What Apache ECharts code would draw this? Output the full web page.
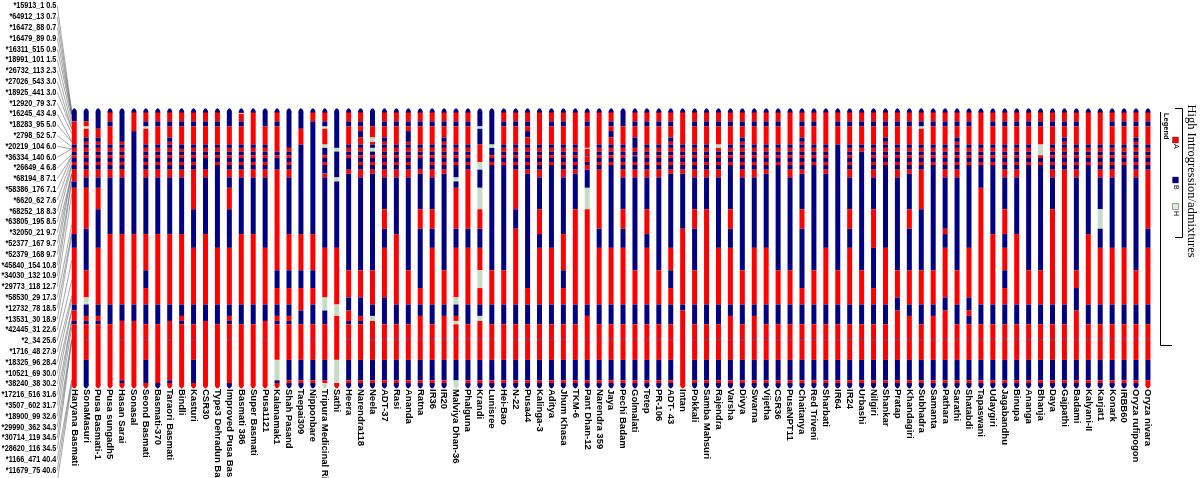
<!DOCTYPE html>
<html><head><meta charset="utf-8">
<script src="https://cdn.jsdelivr.net/npm/echarts@6/dist/echarts.min.js"></script>
<style>html,body{margin:0;padding:0;background:#fff}#c{width:1200px;height:478px}</style>
</head><body><div id="c"></div>
<script>
// ---------- data ----------
const accessions = ['Haryana Basmati','SonaMasuri','Pusa Basmati-1','Pusa sungadh5','Hasan Sarai','Sonasal','Seond Basmati','Basmati-370','Taraori Basmati','Bindli','Kasturi','CSR30','Type3 Dehradun Basmati','Improved Pusa Basmati','Basmati 386','Super Basmati','Pusa1121','Kalanamak1','Shah Pasand','Taepai309','Nipponbare','Tripura Medicinal Rice','Sathi','Heera','Narendra118','Neela','ADT-37','Rasi','Ananda','Ratna','IR36','IR20','Malviya Dhan-36','Phalguna','Krandi','Lunisree','Hei-Bao','N-22','Pusa44','Kalinga-3','Aditya','Jhum Khasa','TKM-6','Pant Dhan-12','Narendra 359','Jaya','Pechi Badam','Golmalati','Tetep','PR-106','ADT- 43','Intan','Pokkali','Samba Mahsuri','Rajendra','Varsha','Divya','Swarna','Vijetha','CSR36','PusaNPT11','Chaitanya','Red Triveni','Sharbati','IR64','IR24','Urbashi','Nilgiri','Shankar','Pratap','Khandagiri','Subhadra','Samanta','Pathara','Sarathi','Shatabdi','Tapaswani','Udaygiri','Jagabandhu','Binupa','Ananga','Bhanja','Daya','Gajpathi','Badami','Kalyani-II','Karjat1','Konark','IRBB60','Oryza rufipogon','Oryza nivara'];

const markerNames = ['*15913_1','*64912_13','*16472_88','*16479_89','*16311_515','*18991_101','*26732_113','*27026_543','*18925_441','*12920_79','*16245_43','*18283_95','*2798_52','*20219_104','*36334_140','*26649_4','*68194_8','*58386_176','*6620_62','*68252_18','*63805_195','*32050_21','*52377_167','*52379_168','*45840_154','*34030_132','*29773_118','*58530_29','*12732_78','*13531_30','*42445_31','*2_34','*1716_48','*18325_96','*10521_69','*38240_38','*17216_516','*3507_602','*18900_99','*29990_362','*30714_119','*28620_116','*1166_471','*11679_75','*16082_386'];
const markerCM = [0.5,0.7,0.7,0.9,0.9,1.5,2.3,3.0,3.0,3.7,4.9,5.0,5.7,6.0,6.0,6.8,7.1,7.1,7.6,8.3,8.5,9.7,9.7,9.7,10.8,10.9,12.7,17.3,18.5,18.9,22.6,25.6,27.9,28.4,30.0,30.2,31.6,31.7,32.6,34.3,34.5,34.5,40.4,40.6,41.2];

const genotypeClasses = ['A','B','H'];
const legendTitle = 'Legend';
const chartTitle = 'High Introgression/admixtures';

// genotype calls per accession, markers 1-26 (0.5-10.9 cM)
const callsTop = [
'BBBBBBAAAAAABAABAABABAAAAB','BBBBBBAHAABABAABAABABAAABB','BBBBBBBBAABABAABAABABAAABB','AAAAAABAAAAABAABAABABAAABB',
'BBBBBBBBBBBABAABAABABAAABB','AAAAAAAAABBBBBBBBBBBBBBBBB','AAAAAABHAAAABAABAABABAAABB','AAAAAABAAAAABAABAABABAAABB',
'AAAAAABAAABABAABAABABAAABB','AAAAAABAAAAABBABAABABAAABB','AAAAAABAAAAABAABAABABAAAAA','AAAAAABAAAAABAABAABBBAAABB',
'AAAAAABAAAAABAABAABABBBBBB','BBBBBBBAAAAABAABAABABAAABB','AAHAAABAAAAABAABAABABAAABB','AAAAAAAAAAAABAABAABABAAABB',
'BBBBBBBAAAAABAABAABABAAABB','AAAAAABAAAAAAAABAABBBAAAAA','BBBBBBBBBBBBBAABAABABAAABB','BBBBBBBBAAAABBBBBBBBBBBBBB',
'AAAAAABBBBBBBBBBBBBBBBBBBB','AAAAAABHAAAAHBBBAABABBHABB','BBBBBBBBBBBBBHHBBBBBBBBBHB','AAAAAABAAAAABAABAABBBAABBB',
'AAAAAABAABAABAABAABABAAABB','BBBBBBBAAAHABHHBAABABAABBB','AAAAAABAAABABAABAABABAAABB','AAAAAABAAAAABAABAABABAAABB',
'AAAAAABAABBABAABAABABAAABB','AAAAAABAAAAABAABAABBBAABBB','AAAAAABAAAAABAABAABABAAABB','AAAAAABAAABABAABAABABAABBB',
'AAAAAABAAAAABAABAABABBBBHB','AAAAAABAAAAABAABAABABAAAAA','BBBBBBBHBBBBAAAAAAAHHBBBBB','BBBBBBBBBBBBHBBBAABABBBBBB',
'AAAAAABAAAAABAABAABABBBBBB','AAAAAABAAAAABAABAABABAAAAA','AAAAAABAABAABAABAABABAABBB','AAAAAAAAAAAABAABAABABAAABB',
'AAAAAABAAAAABAABAABABBBBBB','AAAAAABAAAAABAABAABABAAABB','AAAAAAAAAAAABAABAABABAABBB','AAAAAABAAAAAAHAABAABABBBBB',
'AAAAAAAAAAAABAABAABABAAAAA','AAAAAABAABAABAABAABABBBBBB','BBBBBBBAAAAABAABAABABAAABB','AAAAAABAAABBBAABABBABAAABB',
'AAAAAABAAAAABAABAABABAAABB','AAAAAABAAAAABAABAABABAAABB','AAAAAABAAABABAABAABABAABBB','AAAAAAAAAAAABAABAABABAABBB',
'AAAAAABAAAAABAABAABABAAABB','AAAAAABAAAAABAABAABABAAABB','AAAAAABAAAAAHAABAABABAAABB','AAAAAABAAAAABAABAABABBBBBB',
'AAAAAABAAABABAABAABABAAABB','AAAAAABAAAAABAABAABABAAABB','AAAAAABAAAAABAABAABABAABBB','AAAAAABAAAAABAABAABABBBBBB',
'AAAAAAAAAAAABAABAABABAAABB','AAAAAABAAABABAABAABABAABBB','AAAAAABAAAAABAABAABABBBBBB','AAAAAAAAAAAABAABAABABAABBB',
'AAAAAABAAAAABBBBBBBBBBBBBB','AAAAAABAAAAABAABAABABAAABB','AAAAAABAAAAABAABBBBBBBBBBB','AAAAAABAAAAABAABAABABAAABB',
'AAAAAABAAABABAABAABABBBBBB','AAAAAABAAAAABAABAABABAAABB','AAAAAABAAAAABAABAABABAABBB','AAAAAABHAAAABAABAABABAAAAA',
'AAAAAABAAAAABAABAABABBBBBB','AAAAAABAAAAABAABAABABAAABB','AAAAAABAAABABAABAABABAAABB','AAAAAABAAAAABAABAABABBBBBB',
'AAAAAAAAAAAABAABAABABBBBBB','AAAAAABAAAAABAABAABABBBBBB','AAAAAABAAAAABAABAABABAAABB','AAAAAABAAAAABAABAABABAAABB',
'AAAAAABAAAAABAABAABABBBBBB','AAAAAABAAAAAHHHHAABABBBBBB','AAAAAABAAAAABAABAABABAAABB','AAAAAABAAABABAABAABABAAAAA',
'AAAAAABAAAAABAABAABABAAABB','AAAAAAAAAAAABAABAABABBBBBB','AAAAAAAAAAAABAABAABABAAABB','AAAAAABAAAAABAABAABABAAABB',
'AAAAAABAAAAABAABAABABBBBBB','AAAAAABAAABABAABAABABAAABB','AAAAAABAAAAABAABAABABAAAAA'];

// genotype calls per accession, markers 27-45 (12.7-41.2 cM)
const callsBottom = [
'AAABAAAABAABAAAAAAA','AABBBAAHBBABAABABBB','ABBBAAAABBABAAAAAAA','BBBAAAAABBBBAAAAAAA',
'BBBAAAAABBBAAABAABA','BBBAAAAABBBAAAAAAAA','BBBAABAABBBBAABABBA','BBBAAAAABBBBAAAAAAB',
'BBBAAAAABBBAAABAABA','BBBAAAAABBABAAAAAAA','ABBBAAAABBBBAABABBA','BBBAAAAABBBAAAAAAAA',
'BBBBAAAABBBBAAAAAAA','ABBBAAAABBABAABAAAB','BBBAAAAABBBBAAAAAAA','BBBAAAAABBBBAAAAAAA',
'BBBBAAAABBBAAABAAAA','AAAAABAABBABAAAAHBA','BBBAABAABBABAAAABAB','BBBAABAAABBBAAAABAB',
'BBBAABAABBBBAABABAB','BBBBAAAHHBBBAAAABAH','BBBBAAAAHHAAAAAAHHA','BBBBBAABBAABAABABAB',
'BBBBBAABBBABAAAABAB','BBBBBAAABBHAAABABAB','BABBAAABBBBBAABABAB','BBBAAAAABBBBAABABAB',
'BBBBBAAABBBBAABABAB','BABBBBAABBAAAABABAB','BABBAAAABBBBAABABAB','BBBBBAAABBAAAABABAB',
'AABBAAAHBBAHAABABHH','AABBAAAABBBBAABABAB','HABBAHAABBHAAABABAB','BBBBBAAABBBBAABABAB',
'BBBBBAAABBBBAAAABAB','ABAAAAAABBBBAABABAB','BBBBBBAABBBBAABABAB','BAABAAAABBBBAABABAB',
'BBBBAAAABBBBAABABAB','BBBAABAABBBBAABABAB','BAAAAAAABBBBAAAABAB','HAAAAAAABBAAAABABAB',
'AABBAAAABBBBAABABAB','BBBBAAAABBBBAABABAB','BABBAAAABBBBAABABAB','BBBBBAAABBBBAABABAB',
'BAABAAAABBBBAABABAB','BBBBBAAABBBBAABABAB','BBBBABAABBBBAABABAB','BBAAAAAABAAAAAAAAAA',
'BABBBAAABBBBAABABAB','BAAAAAAABBBBAABABAB','BBBBAAAABBBBAABABAB','BABBAAAABBAAAABABAB',
'BBBBBAAABBBBAABABAB','BBBBAAAABBAAAABABAB','BBBBAAAABBBBAABABAB','BBBBBAAABBBBAABABAB',
'BBBBBAAABBBBAABABAB','BABBBBAABBBBAABABAB','BBBBBAAABBBBAABABAB','BBBBAAAABBBBAABABAB',
'BBBBBAAABBBBAABABAB','BABBAAAABBBBAABABAB','BBBBBAAABBBBAABABAB','BAAABBAABBBBAABABAB',
'BBBBAAAABBBBAABABAB','BBBBBAABBAAAAABABAB','BABBBAAABBAAAABABAB','ABBBBAAABBBBAABABAB',
'BBBBBAAABBAAAABABAB','BBABAAABBAAAAABABAB','BBBBBAAABBBBAABABAB','BBBBAAABBABBAABABAB',
'AAAAAAAABBBBAABABAB','BBBAAAAABBBBAABABAB','BAABABAABBBBAABABAB','BBBAAAAABBBBAABABAB',
'BBBBBAAABBBBAABABAB','BBBBBAAABBBBAABABAB','BAAAAAAABBBBAABABAB','AAAAAAAABBBBAABABAB',
'BBBBBABBBAAAAABABAB','BBBAAAAABBBBAABABAB','BHBBAAAABBBBAABABAB','BBBBAAAABBBBAABABAB',
'BBBBAAAABBBBAABABAB','BBBBBAAABBBBAABABAB','AABBAAAABBBBAABABAA'];

// ---------- build ----------
const colors = {A:'#ff0000', B:'#000080', H:'#c6dcc6'};
const nM = markerCM.length;
const firstCM = markerCM[0], lastCM = markerCM[nM-1];
const markerLabels = markerNames.map((n,i)=> n + ' ' + markerCM[i].toFixed(1));

function callsFor(i){
  let s = (callsTop[i] + callsBottom[i]);
  while (s.length < nM) s += s[s.length-1];
  return s.slice(0, nM);
}
const bounds = [];
for (let j=0;j<=nM;j++){
  if (j===0) bounds.push(firstCM);
  else if (j===nM) bounds.push(lastCM);
  else bounds.push((markerCM[j-1]+markerCM[j])/2);
}
const segData = [];
const capData = [];
accessions.forEach((name, i)=>{
  const s = callsFor(i);
  let start = 0;
  for (let j=1;j<=nM;j++){
    if (j===nM || s[j]!==s[start]){
      segData.push([i, bounds[start], bounds[j], genotypeClasses.indexOf(s[start])]);
      start = j;
    }
  }
  capData.push([i, firstCM, lastCM, genotypeClasses.indexOf(s[nM-1])]);
});
const connData = markerCM.map((cm,j)=>[0, cm, j]);
const labelData = markerLabels.map((t,j)=>[0, j]);

// layout
const barW = 5;
const barTop = 112, barBot = 385, gridTop = 0.6, gridH = 486;
const k = (barBot - barTop)/(lastCM - firstCM);
const yMin = firstCM - (barTop - gridTop)/k;
const yMax = firstCM + (gridTop + gridH - barTop)/k;
const gridLeft = 68.3, gridWidth = 1085.6;
const labelGap = 12;

const chart = echarts.init(document.getElementById('c'), null, {renderer:'canvas'});
const sans = "'Liberation Sans',Arial,Helvetica,sans-serif";
const rot = -Math.PI/2;

chart.setOption({
  animation:false,
  backgroundColor:'#ffffff',
  grid:{left:gridLeft, top:gridTop, width:gridWidth, height:gridH, containLabel:false, outerBoundsMode:'none'},
  xAxis:{type:'category', data:accessions, position:'bottom', offset:-(gridTop+gridH-barBot),
    axisLine:{show:false}, axisTick:{show:false}, splitLine:{show:false},
    axisLabel:{interval:0, rotate:-90, margin:4, fontSize:9.5, fontWeight:'bold', color:'#000', fontFamily:sans, hideOverlap:false}},
  yAxis:[
    {type:'value', inverse:true, min:yMin, max:yMax, show:false},
    {type:'category', data:markerLabels, inverse:true, position:'left',
     axisLine:{show:false}, axisTick:{show:false}, splitLine:{show:false}, axisLabel:{show:false}}
  ],
  series:[
    {type:'custom', name:'markerLabels', xAxisIndex:0, yAxisIndex:1, clip:false, silent:true,
     data:labelData, encode:{x:0,y:1},
     renderItem:(params, api)=>{
       const p = api.coord([0, api.value(1)]);
       const cs = params.coordSys;
       return {type:'text', x:cs.x - labelGap, y:p[1], scaleX:0.8,
         style:{text:markerLabels[api.value(1)], x:0, y:0, align:'right', verticalAlign:'middle',
           font:"bold 9px " + sans, fill:'#000'}};
     }},
    {type:'custom', name:'connectors', xAxisIndex:0, yAxisIndex:0, clip:false, silent:true,
     data:connData, encode:{x:0,y:1},
     renderItem:(params, api)=>{
       const p = api.coord([0, api.value(1)]);
       const cs = params.coordSys;
       const j = api.value(2);
       const ly = cs.y + (j+0.5)*cs.height/nM;
       return {type:'line', shape:{x1:cs.x-labelGap+1, y1:ly, x2:p[0]-barW/2, y2:p[1]},
         style:{stroke:'#6a6a6a', lineWidth:0.6}};
     }},
    {type:'custom', name:'segments', xAxisIndex:0, yAxisIndex:0, clip:false, silent:true,
     data:segData, encode:{x:0,y:[1,2]},
     renderItem:(params, api)=>{
       const p1 = api.coord([api.value(0), api.value(1)]);
       const p2 = api.coord([api.value(0), api.value(2)]);
       const g = genotypeClasses[api.value(3)];
       return {type:'rect', shape:{x:p1[0]-barW/2, y:p1[1], width:barW, height:Math.max(p2[1]-p1[1],0.8)},
         style:{fill:colors[g]}};
     }},
    {type:'custom', name:'caps', xAxisIndex:0, yAxisIndex:0, clip:false, silent:true,
     data:capData, encode:{x:0,y:[1,2]},
     renderItem:(params, api)=>{
       const t = api.coord([api.value(0), api.value(1)]);
       const b = api.coord([api.value(0), api.value(2)]);
       const x = t[0], h = barW/2;
       const g = genotypeClasses[api.value(3)];
       return {type:'group', children:[
         {type:'polygon', shape:{points:[[x-h,t[1]+0.5],[x-h,t[1]-1],[x-1.3,t[1]-3],[x,t[1]-3.8],[x+1.3,t[1]-3],[x+h,t[1]-1],[x+h,t[1]+0.5]]}, style:{fill:'#000080'}},
         {type:'polygon', shape:{points:[[x-h,b[1]-0.5],[x-h,b[1]+1],[x-1.3,b[1]+2.8],[x,b[1]+3.6],[x+1.3,b[1]+2.8],[x+h,b[1]+1],[x+h,b[1]-0.5]]}, style:{fill:colors[g]}}
       ]};
     }}
  ],
  graphic:[
    {type:'polyline', shape:{points:[[1160.5,112],[1160.5,345.5],[1172,345.5]]}, style:{stroke:'#000', lineWidth:1, fill:null}},
    {type:'text', x:1166, y:113, rotation:rot, style:{text:legendTitle, font:"bold 7.5px " + sans, fill:'#000', align:'left', verticalAlign:'middle'}},
    {type:'rect', shape:{x:1172.5, y:137, width:6, height:6}, style:{fill:'#ff0000', stroke:'#444', lineWidth:0.5}},
    {type:'text', x:1175.5, y:144, rotation:rot, style:{text:genotypeClasses[0], font:"7px " + sans, fill:'#000', align:'left', verticalAlign:'middle'}},
    {type:'rect', shape:{x:1172.5, y:177, width:6, height:6}, style:{fill:'#000080', stroke:'#444', lineWidth:0.5}},
    {type:'text', x:1175.5, y:185, rotation:rot, style:{text:genotypeClasses[1], font:"7px " + sans, fill:'#000', align:'left', verticalAlign:'middle'}},
    {type:'rect', shape:{x:1172.5, y:203.5, width:6, height:6}, style:{fill:'#dde9dd', stroke:'#444', lineWidth:0.5}},
    {type:'text', x:1175.5, y:211, rotation:rot, style:{text:genotypeClasses[2], font:"7px " + sans, fill:'#000', align:'left', verticalAlign:'middle'}},
    {type:'polyline', shape:{points:[[1175,108.5],[1182.5,108.5],[1182.5,237.5],[1175,237.5]]}, style:{stroke:'#000', lineWidth:1, fill:null}},
    {type:'text', x:1191, y:181, rotation:rot, style:{text:chartTitle, font:"12.5px 'Liberation Serif','Times New Roman',serif", fill:'#000', align:'center', verticalAlign:'middle'}}
  ]
});
</script></body></html>
